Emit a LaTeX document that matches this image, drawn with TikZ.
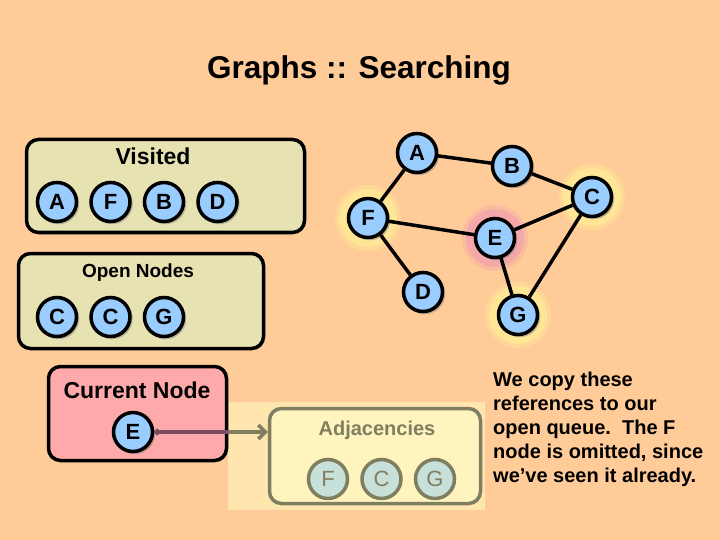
\documentclass[tikz,border=0pt]{standalone}
\usepackage{fontspec}
\setmainfont{Liberation Sans}
\usetikzlibrary{arrows.meta,positioning,shadows}
\definecolor{bgpeach}{RGB}{255,204,153}
\definecolor{boxkhaki}{RGB}{230,226,178}
\definecolor{nodeblue}{RGB}{153,204,255}
\definecolor{curpink}{RGB}{255,170,170}
\definecolor{glowyellow}{RGB}{255,230,150}
\definecolor{glowpink}{RGB}{244,168,168}
\definecolor{fadeyellow}{RGB}{255,230,175}
\definecolor{adjfill}{RGB}{255,243,190}
\definecolor{adjgray}{RGB}{128,126,96}
\definecolor{adjnode}{RGB}{200,224,218}
\definecolor{curline}{RGB}{125,75,95}
\tikzset{%
   vtx/.style={circle, minimum size=39pt, inner sep=0pt, draw=black, line width=3.5pt, fill=nodeblue,
     font=\bfseries\fontsize{22}{24}\selectfont,
     drop shadow={shadow xshift=1.5pt, shadow yshift=-1.5pt, shadow scale=1.06, opacity=.5}},
   fvtx/.style={circle, minimum size=39pt, inner sep=0pt, draw=adjgray, line width=3.5pt, fill=adjnode,
     text=adjgray, font=\fontsize{22}{24}\selectfont},
   box/.style={rectangle, rounded corners=12pt, draw=black, line width=3.5pt, fill=boxkhaki,
     drop shadow={shadow xshift=1.5pt, shadow yshift=-1.5pt, opacity=.4}},
   fbox/.style={rectangle, rounded corners=12pt, draw=adjgray, line width=3.5pt, fill=adjfill},
   lbl/.style={font=\bfseries\fontsize{23}{26}\selectfont},
   halo/.style={preaction={draw=#1, draw opacity=.45, line width=27pt},
     preaction={draw=#1, line width=19pt}},
   link/.style={line width=3.5pt},
}
\tikzset{
  note/.style={align=left, inner sep=0pt, font=\bfseries\fontsize{20}{24}\selectfont}
}

\begin{document}
\begin{tikzpicture}[x=1pt, y=-1pt, node distance=11pt]
      \fill[bgpeach] (0,0) rectangle (720,540);
      \useasboundingbox (0,0) rectangle (720,540);
      \node[font=\bfseries\fontsize{31.5}{34}\selectfont] (title) at (359,70) {Graphs :: Searching};
      % visited
      \node[box, minimum width=278pt, minimum height=93pt] (vis) at (165.5,186) {};
      \node[lbl] (visl) at (153,156) {Visited};
      \node[vtx] (v0) at (57,202) {A};
      \node[vtx, right=of v0] (v1) {F};
      \node[vtx, right=of v1] (v2) {B};
      \node[vtx, right=of v2] (v3) {D};
      % open nodes
      \node[box, minimum width=245pt, minimum height=95pt] (opn) at (141,301) {};
      \node[lbl, font=\bfseries\fontsize{19}{22}\selectfont] (opnl) at (138,273) {Open Nodes};
      \node[vtx] (o0) at (57,317) {C};
      \node[vtx, right=of o0] (o1) {C};
      \node[vtx, right=of o1] (o2) {G};
      % graph
      \node[vtx] (gA) at (417,153) {A};
      \node[vtx] (gB) at (512,166) {B};
      \node[halo=glowyellow, vtx] (gC) at (592,197) {C};
      \node[halo=glowyellow, vtx] (gF) at (368,218) {F};
      \node[halo=glowpink, vtx] (gE) at (495,238) {E};
      \node[vtx] (gD) at (423,292) {D};
      \node[halo=glowyellow, vtx] (gG) at (518,315) {G};
      \draw[link] (gA) -- (gB);
      \draw[link] (gA) -- (gF);
      \draw[link] (gB) -- (gC);
      \draw[link] (gF) -- (gE);
      \draw[link] (gF) -- (gD);
      \draw[link] (gE) -- (gC);
      \draw[link] (gE) -- (gG);
      \draw[link] (gC) -- (gG);
      % current node and adjacencies
      \fill[fadeyellow] (228,402) rectangle (485,510);
      \node[box, fill=curpink, minimum width=178pt, minimum height=94pt] (cur) at (137.5,413.5) {};
      \node[lbl] (curl) at (137,390) {Current Node};
      \node[vtx] (cE) at (133,432) {E};
      \node[fbox, minimum width=211pt, minimum height=95pt] (adj) at (375,456) {};
      \node[text=adjgray, font=\bfseries\fontsize{20}{22}\selectfont] (adjl) at (377,430) {Adjacencies};
      \node[fvtx] (j0) at (328,479) {F};
      \node[fvtx, right=of j0] (j1) {C};
      \node[fvtx, right=of j1] (j2) {G};
      \draw[adjgray, line width=3.5pt, -{Straight Barb[length=7pt, width=14pt]}] (cE) -- (cE -| adj.west);
      \begin{scope}
        \clip (cur.north west) rectangle (cur.south east);
        \draw[curline, line width=3.5pt, {Circle[length=6pt]}-] (cE) -- (cE -| adj.west);
      \end{scope}
      \node[note, anchor=north west] (txt) at (493,372) {We copy these\\references to our\\open queue.\ \ The F\\node is omitted, since\\we’ve seen it already.};
   \end{tikzpicture}
\end{document}
